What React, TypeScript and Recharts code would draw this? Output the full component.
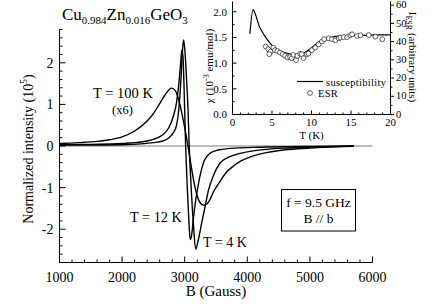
import React from "react";
import { LineChart, Line, XAxis, YAxis, ReferenceLine } from "recharts";

// main panel: derivative ESR lines, B in Gauss, intensity in 10^5
const fieldT100 = [1000, 1300, 1600, 1800, 2000, 2200, 2400, 2500, 2600, 2700, 2790, 2850, 2900, 2950, 3000, 3050, 3100, 3150, 3200, 3250, 3300, 3350, 3400, 3460, 3560, 3650, 3780, 3900, 4050, 4300, 4600, 5000, 5400, 5700];
const intT100 = [0.06, 0.08, 0.11, 0.15, 0.22, 0.36, 0.6, 0.78, 1.02, 1.26, 1.39, 1.33, 1.13, 0.82, 0.44, 0.02, -0.45, -0.88, -1.2, -1.37, -1.42, -1.4, -1.3, -1.1, -0.86, -0.66, -0.48, -0.36, -0.26, -0.16, -0.09, -0.05, -0.02, -0.01];

const fieldT12 = [1000, 1500, 2000, 2200, 2400, 2550, 2650, 2750, 2820, 2870, 2910, 2935, 2955, 2972, 2990, 3015, 3040, 3065, 3088, 3110, 3135, 3165, 3200, 3250, 3300, 3350, 3400, 3500, 3600, 3800, 4200, 5000, 5700];
const intT12 = [0.03, 0.04, 0.06, 0.08, 0.12, 0.19, 0.27, 0.45, 0.72, 1.05, 1.55, 2.0, 2.3, 2.15, 1.4, 0.0, -0.95, -1.75, -2.25, -2.15, -1.8, -1.42, -1.08, -0.68, -0.4, -0.26, -0.18, -0.11, -0.08, -0.05, -0.03, -0.01, 0];

const fieldT4 = [1000, 1500, 2000, 2300, 2500, 2650, 2750, 2820, 2870, 2910, 2940, 2965, 2982, 3000, 3030, 3055, 3072, 3100, 3140, 3176, 3217, 3270, 3325, 3380, 3456, 3560, 3700, 3850, 4040, 4300, 4600, 5000, 5700];
const intT4 = [0.02, 0.02, 0.03, 0.05, 0.08, 0.12, 0.2, 0.32, 0.5, 0.95, 1.6, 2.3, 2.55, 2.35, 1.6, 0.8, 0.0, -0.9, -1.9, -2.48, -2.26, -1.86, -1.46, -1.06, -0.72, -0.42, -0.27, -0.19, -0.13, -0.08, -0.05, -0.03, 0];

const fieldTicks = [1000, 1200, 1400, 1600, 1800, 2000, 2200, 2400, 2600, 2800, 3000, 3200, 3400, 3600, 3800, 4000, 4200, 4400, 4600, 4800, 5000, 5200, 5400, 5600, 5800, 6000];
const fieldMajor = [1000, 2000, 3000, 4000, 5000, 6000];
const intTicks = [-2.8, -2.6, -2.4, -2.2, -2, -1.8, -1.6, -1.4, -1.2, -1, -0.8, -0.6, -0.4, -0.2, 0, 0.2, 0.4, 0.6, 0.8, 1, 1.2, 1.4, 1.6, 1.8, 2, 2.2, 2.4, 2.6, 2.8];
const intMajor = [-2, -1, 0, 1, 2];

// inset: susceptibility and ESR intensity vs T
const tempChi = [2.2, 2.6, 2.95, 3.36, 3.8, 4.2, 4.7, 5.25, 5.8, 6.3, 7.0, 7.56, 8.2, 8.8, 9.3, 9.87, 10.4, 10.9, 11.5, 12.2, 13.0, 13.9, 15, 16.8, 18, 20];
const chiValues = [1.57, 2.04, 1.93, 1.73, 1.6, 1.5, 1.4, 1.31, 1.26, 1.22, 1.19, 1.17, 1.17, 1.18, 1.22, 1.28, 1.35, 1.41, 1.46, 1.49, 1.52, 1.53, 1.54, 1.54, 1.55, 1.55];

const tempEsr = [4.2, 4.53, 4.83, 4.66, 5.17, 5.38, 5.67, 6.02, 6.36, 6.65, 6.95, 7.29, 7.5, 7.71, 8.05, 8.22, 8.56, 8.77, 8.98, 9.41, 9.62, 10.05, 10.47, 10.9, 11.32, 11.62, 12.17, 12.6, 13.02, 13.44, 13.65, 14.07, 14.5, 14.92, 15.14, 15.78, 16.2, 17.25, 18.1, 18.96];
const esrValues = [37.3, 35.8, 34.5, 33.1, 36.7, 35.3, 34.9, 34, 33.1, 32.2, 31.3, 31.6, 30.9, 32.7, 29.8, 32.2, 33.4, 33.1, 30.9, 33.1, 33.4, 35.3, 36.7, 38.5, 40, 41.3, 41.8, 41.3, 40.7, 41.8, 42.2, 42.5, 42.5, 43.5, 44, 43.1, 43.5, 43.6, 42.7, 41.3];

const tempTicks = [0, 1, 2, 3, 4, 5, 6, 7, 8, 9, 10, 11, 12, 13, 14, 15, 16, 17, 18, 19, 20];
const tempMajor = [0, 5, 10, 15, 20];
const chiTicks = [0, 0.25, 0.5, 0.75, 1, 1.25, 1.5, 1.75, 2];
const chiMajor = [0, 0.5, 1, 1.5, 2];
const esrTicks = [0, 5, 10, 15, 20, 25, 30, 35, 40, 45, 50, 55, 60];
const esrMajor = [0, 10, 20, 30, 40, 50, 60];

const t100 = fieldT100.map((b, i) => ({ b, v: intT100[i] }));
const t12 = fieldT12.map((b, i) => ({ b, v: intT12[i] }));
const t4 = fieldT4.map((b, i) => ({ b, v: intT4[i] }));
const chiData = tempChi.map((t, i) => ({ t, chi: chiValues[i] }));
const esrData = tempEsr.map((t, i) => ({ t, esr: esrValues[i] }));

const serif = "Liberation Serif, Times New Roman, serif";

type Side = "left" | "right" | "top" | "bottom";

// ticks drawn by hand so they can point into the frame
function tickFn(side: Side, majors: number[], big: number, small: number, opts: { size?: number; off?: number; dy?: number; fmt?: (v: number) => string; out?: boolean; label?: boolean } = {}) {
  const { size = 14, off = 5, dy = 0.36, fmt = (v: number) => String(v), out = false, label = true } = opts;
  return (p: any) => {
    const v = p.payload.value;
    const isMajor = majors.includes(v);
    const len = (isMajor ? big : small) * (out ? -1 : 1);
    let x2 = p.x, y2 = p.y;
    if (side === "left") x2 = p.x + len;
    if (side === "right") x2 = p.x - len;
    if (side === "bottom") y2 = p.y - len;
    if (side === "top") y2 = p.y + len;
    let txt = null;
    if (label && isMajor) {
      const st = { fontFamily: serif, fontSize: size };
      if (side === "left") txt = <text x={p.x - off} y={p.y + size * dy} textAnchor="end" fill="#000" style={st}>{fmt(v)}</text>;
      if (side === "right") txt = <text x={p.x + off} y={p.y + size * dy} textAnchor="start" fill="#000" style={st}>{fmt(v)}</text>;
      if (side === "bottom") txt = <text x={p.x} y={p.y + off} textAnchor="middle" fill="#000" style={st}>{fmt(v)}</text>;
    }
    return (
      <g>
        <line x1={p.x} y1={p.y} x2={x2} y2={y2} stroke="#000" strokeWidth={1} />
        {txt}
      </g>
    );
  };
}

export default function App() {
  return (
    <div style={{ position: "absolute", left: 0, top: 0, width: 436, height: 304, background: "#fff", overflow: "hidden", fontFamily: serif }}>
      <LineChart width={436} height={304} margin={{ top: 29.5, right: 63.5, bottom: 0.5, left: 0.5 }}>
        <XAxis dataKey="b" type="number" domain={[1000, 6000]} allowDataOverflow ticks={fieldTicks} interval={0} height={41}
          tickSize={0} tickMargin={0} tickLine={false} axisLine={{ stroke: "#000" }}
          tick={tickFn("bottom", fieldMajor, 6, 3, { size: 14, off: 19 })} />
        <XAxis xAxisId="top" orientation="top" dataKey="b" type="number" domain={[1000, 6000]} allowDataOverflow ticks={fieldTicks} interval={0} height={0}
          tickSize={0} tickMargin={0} tickLine={false} axisLine={{ stroke: "#000" }}
          tick={tickFn("top", fieldMajor, 6, 3, { label: false })} />
        <YAxis type="number" domain={[-2.8, 2.8]} allowDataOverflow ticks={intTicks} interval={0} width={59}
          tickSize={0} tickMargin={0} tickLine={false} axisLine={{ stroke: "#000" }}
          tick={tickFn("left", intMajor, 6, 3, { size: 14, off: 6 })} />
        <YAxis yAxisId="right" orientation="right" type="number" domain={[-2.8, 2.8]} allowDataOverflow ticks={intTicks} interval={0} width={0}
          tickSize={0} tickMargin={0} tickLine={false} axisLine={{ stroke: "#000" }}
          tick={tickFn("right", intMajor, 6, 3, { label: false })} />
        <ReferenceLine y={0} stroke="#444" strokeWidth={0.7} />
        <Line data={t100} dataKey="v" type="monotone" stroke="#000" strokeWidth={1.4} dot={false} isAnimationActive={false} />
        <Line data={t12} dataKey="v" type="monotone" stroke="#000" strokeWidth={1.4} dot={false} isAnimationActive={false} />
        <Line data={t4} dataKey="v" type="monotone" stroke="#000" strokeWidth={1.4} dot={false} isAnimationActive={false} />
      </LineChart>

      <div style={{ position: "absolute", left: 191, top: 0, width: 245, height: 140, background: "#fff" }}>
        <LineChart width={245} height={140} margin={{ top: 1.5, right: 0.5, bottom: 0.5, left: 0.5 }}>
          <XAxis dataKey="t" type="number" domain={[0, 20]} allowDataOverflow ticks={tempTicks} interval={0} height={25}
            tickSize={0} tickMargin={0} tickLine={false} axisLine={{ stroke: "#000" }}
            tick={tickFn("bottom", tempMajor, 4, 2, { size: 11, off: 11.5 })} />
          <YAxis yAxisId="chi" type="number" domain={[0, 2.2]} allowDataOverflow ticks={chiTicks} interval={0} width={41}
            tickSize={0} tickMargin={0} tickLine={false} axisLine={{ stroke: "#000" }}
            tick={tickFn("left", chiMajor, 4, 2, { size: 11, off: 5.5, fmt: (v) => v.toFixed(1) })} />
          <YAxis yAxisId="esr" orientation="right" type="number" domain={[0, 62]} allowDataOverflow ticks={esrTicks} interval={0} width={45}
            tickSize={0} tickMargin={0} tickLine={false} axisLine={{ stroke: "#000" }}
            tick={tickFn("right", esrMajor, 3.5, 2, { size: 10.5, off: 5.5, dy: 0.3, out: true })} />
          <Line yAxisId="chi" data={chiData} dataKey="chi" type="monotone" stroke="#000" strokeWidth={1.2} dot={false} isAnimationActive={false} />
          <Line yAxisId="esr" data={esrData} dataKey="esr" stroke="none" isAnimationActive={false}
            dot={{ r: 2.4, fill: "#fff", stroke: "#333", strokeWidth: 0.8 }} />
        </LineChart>
      </div>

      <svg width={436} height={304} style={{ position: "absolute", left: 0, top: 0, pointerEvents: "none", fontFamily: serif }}>
        <text x={62} y={20} fontSize={17}>
          Cu<tspan fontSize={11} dy={4}>0.984</tspan>
          <tspan dy={-4}>Zn</tspan><tspan fontSize={11} dy={4}>0.016</tspan>
          <tspan dy={-4}>GeO</tspan><tspan fontSize={11} dy={4}>3</tspan>
        </text>
        <text transform="translate(33,149) rotate(-90)" textAnchor="middle" fontSize={14}>
          Normalized intensity (10<tspan fontSize={9.5} dy={-6}>5</tspan><tspan dy={6}>)</tspan>
        </text>
        <text x={216} y={296} textAnchor="middle" fontSize={15}>B (Gauss)</text>

        <text x={93} y={98} fontSize={14.5}>T = 100 K</text>
        <text x={112} y={114} fontSize={12.5}>(x6)</text>
        <text x={130} y={222} fontSize={14.3}>T = 12 K</text>
        <text x={203} y={247} fontSize={14}>T = 4 K</text>

        <rect x={281.5} y={189.5} width={74} height={41.5} fill="none" stroke="#000" strokeWidth={1} />
        <text x={318.5} y={207} textAnchor="middle" fontSize={13.5}>f = 9.5 GHz</text>
        <text x={318.5} y={223} textAnchor="middle" fontSize={13.5}>B // b</text>

        <text transform="translate(213,66) rotate(-90)" textAnchor="middle" fontSize={11}>
          χ (10<tspan fontSize={8} dy={-4}>-3</tspan><tspan dy={4}> emu/mol)</tspan>
        </text>
        <text transform="translate(409,57) rotate(90)" textAnchor="middle" fontSize={11}>
          I<tspan fontSize={8} dy={3}>ESR</tspan><tspan dy={-3}> (arbitrary units)</tspan>
        </text>
        <text x={311.5} y={138.5} textAnchor="middle" fontSize={11}>T (K)</text>

        <line x1={297} y1={81.5} x2={323} y2={81.5} stroke="#000" strokeWidth={1.2} />
        <text x={326} y={86} fontSize={10.5} letterSpacing={0.3}>susceptibility</text>
        <circle cx={310} cy={93} r={2.4} fill="#fff" stroke="#333" strokeWidth={0.8} />
        <text x={318} y={97} fontSize={10.5} letterSpacing={0.3}>ESR</text>
      </svg>
    </div>
  );
}
